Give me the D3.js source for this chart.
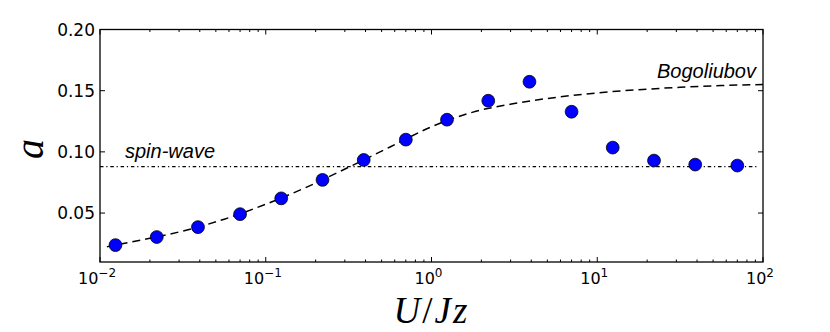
<!DOCTYPE html>
<html>
<head>
<meta charset="utf-8">
<script src="https://d3js.org/d3.v7.min.js"></script>
<style>
    body { margin: 0; background: #fff; }
    svg { display: block; }
    .tick-label { font-family: "DejaVu Sans", sans-serif; fill: #000; }
    .note { font-family: "Liberation Sans", Arial, sans-serif; font-style: italic; font-size: 20px; fill: #000; }
    .math { font-family: "Liberation Serif", "Times New Roman", serif; font-size: 37px; fill: #000; }
</style>
</head>
<body>
<svg width="830" height="332"></svg>
<script>
// simulation points (U/Jz, a)
const uValues = [0.0124, 0.022, 0.039, 0.070, 0.124, 0.22, 0.39, 0.70, 1.24, 2.2, 3.9, 7.0, 12.4, 22, 39, 70];
const aValues = [0.0238, 0.0304, 0.0385, 0.0491, 0.0620, 0.0771, 0.0934, 0.1100, 0.1263, 0.1418, 0.1573, 0.1328, 0.1035, 0.0929, 0.0896, 0.0888];

// Bogoliubov curve
const bogU = [0.011, 0.0178, 0.0316, 0.0562, 0.1, 0.178, 0.316, 0.562, 1, 1.78, 3.16, 5.62, 10, 17.8, 31.6, 56.2, 100];
const bogA = [0.0224, 0.0280, 0.0353, 0.0450, 0.0572, 0.0714, 0.0874, 0.1040, 0.1205, 0.1325, 0.1395, 0.1445, 0.1482, 0.1508, 0.1528, 0.1542, 0.1550];

// spin-wave constant
const spinWave = 0.088;

const xDecades = [-2, -1, 0, 1, 2];
const yTicks = [0.05, 0.10, 0.15, 0.20];
const yTickLabels = ["0.05", "0.10", "0.15", "0.20"];

document.addEventListener("DOMContentLoaded", function(){
    let svg = d3.select("svg");
    let left = 100, right = 763, top = 29.5, bottom = 262;

    let x = d3.scaleLog().domain([0.01, 100]).range([left, right]);
    let y = d3.scaleLinear().domain([0.01, 0.20]).range([bottom, top]);

    svg.append("clipPath").attr("id", "plot-clip")
        .append("rect")
        .attr("x", left).attr("y", top)
        .attr("width", right - left).attr("height", bottom - top);

    let plot = svg.append("g").attr("clip-path", "url(#plot-clip)");

    // spin-wave line
    plot.append("line")
        .attr("x1", x(0.01)).attr("x2", x(93))
        .attr("y1", y(spinWave)).attr("y2", y(spinWave))
        .attr("stroke", "#000")
        .attr("stroke-width", 1.2)
        .attr("stroke-dasharray", "3.5,2.8,1.2,2.8");

    // Bogoliubov curve
    let bogData = bogU.map((u, i) => ({u: u, a: bogA[i]}));
    let line = d3.line()
        .x(d => x(d.u))
        .y(d => y(d.a))
        .curve(d3.curveMonotoneX);
    plot.append("path")
        .datum(bogData)
        .attr("d", line)
        .attr("fill", "none")
        .attr("stroke", "#000")
        .attr("stroke-width", 1.5)
        .attr("stroke-dasharray", "8,5");

    // markers
    let points = uValues.map((u, i) => ({u: u, a: aValues[i]}));
    svg.append("g").selectAll("circle")
        .data(points)
        .enter().append("circle")
        .attr("cx", d => x(d.u))
        .attr("cy", d => y(d.a))
        .attr("r", 6.4)
        .attr("fill", "#0000ff")
        .attr("stroke", "#000")
        .attr("stroke-width", 0.8);

    // ticks, all inside, on all four sides
    let minor = [];
    for (let d = -2; d < 2; d++) {
        for (let k = 2; k <= 9; k++) minor.push(k * Math.pow(10, d));
    }
    let major = xDecades.map(d => Math.pow(10, d));

    let tickG = svg.append("g").attr("stroke", "#000").attr("stroke-width", 1);
    [[bottom, -1], [top, 1]].forEach(([yy, dir]) => {
        tickG.selectAll(null).data(major).enter().append("line")
            .attr("x1", d => x(d)).attr("x2", d => x(d))
            .attr("y1", yy).attr("y2", yy + dir * 5);
        tickG.selectAll(null).data(minor).enter().append("line")
            .attr("x1", d => x(d)).attr("x2", d => x(d))
            .attr("y1", yy).attr("y2", yy + dir * 2.5);
    });
    [[left, 1], [right, -1]].forEach(([xx, dir]) => {
        tickG.selectAll(null).data(yTicks).enter().append("line")
            .attr("y1", d => y(d)).attr("y2", d => y(d))
            .attr("x1", xx).attr("x2", xx + dir * 5);
    });

    // frame
    svg.append("rect")
        .attr("x", left).attr("y", top)
        .attr("width", right - left).attr("height", bottom - top)
        .attr("fill", "none")
        .attr("stroke", "#000")
        .attr("stroke-width", 1.3);

    // x tick labels 10^n
    let xl = svg.append("g").selectAll("text")
        .data(xDecades)
        .enter().append("text")
        .attr("class", "tick-label")
        .attr("x", d => x(Math.pow(10, d)) - 3)
        .attr("y", 284)
        .attr("text-anchor", "middle")
        .style("font-size", "16px");
    xl.append("tspan").text("10");
    xl.append("tspan")
        .attr("dy", -7)
        .style("font-size", "12px")
        .text(d => d < 0 ? "\u2212" + (-d) : "" + d);

    // y tick labels
    svg.append("g").selectAll("text")
        .data(yTicks)
        .enter().append("text")
        .attr("class", "tick-label")
        .attr("x", left - 5)
        .attr("y", d => y(d))
        .attr("dy", "0.36em")
        .attr("text-anchor", "end")
        .style("font-size", "17px")
        .text((d, i) => yTickLabels[i]);

    // annotations
    svg.append("text").attr("class", "note")
        .attr("x", 125).attr("y", 157.5)
        .text("spin-wave");
    svg.append("text").attr("class", "note")
        .attr("x", 756).attr("y", 77.5)
        .attr("text-anchor", "end")
        .text("Bogoliubov");

    // axis labels
    let xlabel = svg.append("text").attr("class", "math")
        .attr("x", (left + right) / 2)
        .attr("y", 323)
        .attr("text-anchor", "middle")
        .style("letter-spacing", "2px");
    xlabel.append("tspan").style("font-style", "italic").text("U");
    xlabel.append("tspan").text("/");
    xlabel.append("tspan").style("font-style", "italic").text("Jz");

    svg.append("text").attr("class", "math")
        .attr("transform", "translate(43," + 149 + ") rotate(-90)")
        .attr("text-anchor", "middle")
        .style("font-style", "italic")
        .style("font-size", "40px")
        .text("a");
});
</script>
</body>
</html>
